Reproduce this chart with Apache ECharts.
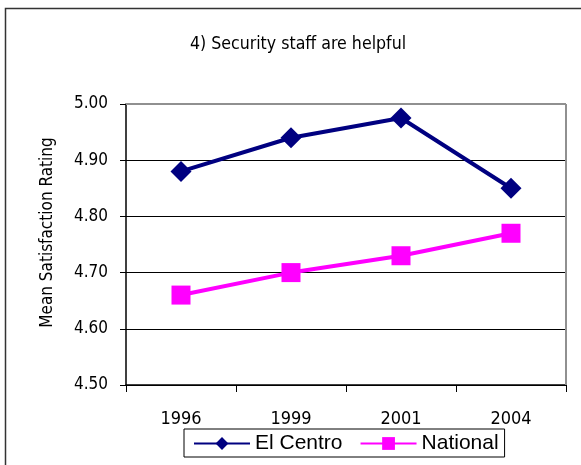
<!DOCTYPE html>
<html><head><meta charset="utf-8">
<script src="https://cdn.jsdelivr.net/npm/echarts@6/dist/echarts.min.js"></script>
<style>html,body{margin:0;padding:0;background:#fff}#c{width:581px;height:465px}</style>
</head><body><div id="c"></div>
<script>
var categories = ['1996', '1999', '2001', '2004'];
var elCentro = [4.88, 4.94, 4.975, 4.85];
var national = [4.66, 4.70, 4.73, 4.77];
var titleText = '4) Security staff are helpful';
var yName = 'Mean Satisfaction Rating';

var narrow = '"DejaVu Sans Condensed", "Liberation Sans Narrow", sans-serif';
var chart = echarts.init(document.getElementById('c'), null, {renderer: 'canvas'});
chart.setOption({
  animation: false,
  backgroundColor: '#fff',
  graphic: [
    {type: 'rect', shape: {x: 5.5, y: 8.5, width: 600, height: 500}, style: {fill: 'none', stroke: '#333', lineWidth: 1.5}, z: -1},
    {type: 'line', shape: {x1: 126, y1: 104, x2: 566, y2: 104}, style: {stroke: '#909090', lineWidth: 2}, z: 100},
    {type: 'line', shape: {x1: 566, y1: 104, x2: 566, y2: 385}, style: {stroke: '#909090', lineWidth: 2}, z: 100}
  ],
  title: {
    text: titleText, left: 293, top: 30, textAlign: 'center',
    textStyle: {fontFamily: narrow, fontSize: 17.6, fontWeight: 'normal', color: '#000'}
  },
  legend: {
    data: ['El Centro', 'National'],
    left: 184, top: 429,
    padding: [4, 6, 3, 9],
    itemGap: 17, itemWidth: 56, itemHeight: 16,
    borderColor: '#000', borderWidth: 1,
    textStyle: {fontFamily: 'Liberation Sans, Arial, sans-serif', fontSize: 21, color: '#000'}
  },
  grid: {left: 126, right: 15, top: 104, bottom: 80, containLabel: false},
  xAxis: {
    type: 'category', data: categories, boundaryGap: true,
    axisLine: {lineStyle: {color: '#000', width: 1.5}},
    axisTick: {show: true, length: 7, lineStyle: {color: '#000'}},
    axisLabel: {fontFamily: narrow, fontSize: 18, color: '#000', margin: 25}
  },
  yAxis: {
    type: 'value', min: 4.5, max: 5.0, interval: 0.1,
    name: yName, nameLocation: 'middle', nameGap: 70,
    nameTextStyle: {fontFamily: narrow, fontSize: 17, color: '#000', padding: [0, 0, 0, 24]},
    axisLine: {show: true, lineStyle: {color: '#000', width: 1.5}},
    axisTick: {show: true, length: 6, lineStyle: {color: '#000'}},
    axisLabel: {fontFamily: narrow, fontSize: 17, color: '#000', margin: 18,
      formatter: function (v) { return v.toFixed(2); }},
    splitLine: {show: true, lineStyle: {color: '#000', width: 1}}
  },
  series: [
    {name: 'El Centro', type: 'line', data: elCentro, symbol: 'diamond', symbolSize: 21,
      lineStyle: {color: '#000080', width: 4}, itemStyle: {color: '#000080'}},
    {name: 'National', type: 'line', data: national, symbol: 'rect', symbolSize: 19,
      lineStyle: {color: '#FF00FF', width: 4}, itemStyle: {color: '#FF00FF'}}
  ]
});
</script></body></html>
